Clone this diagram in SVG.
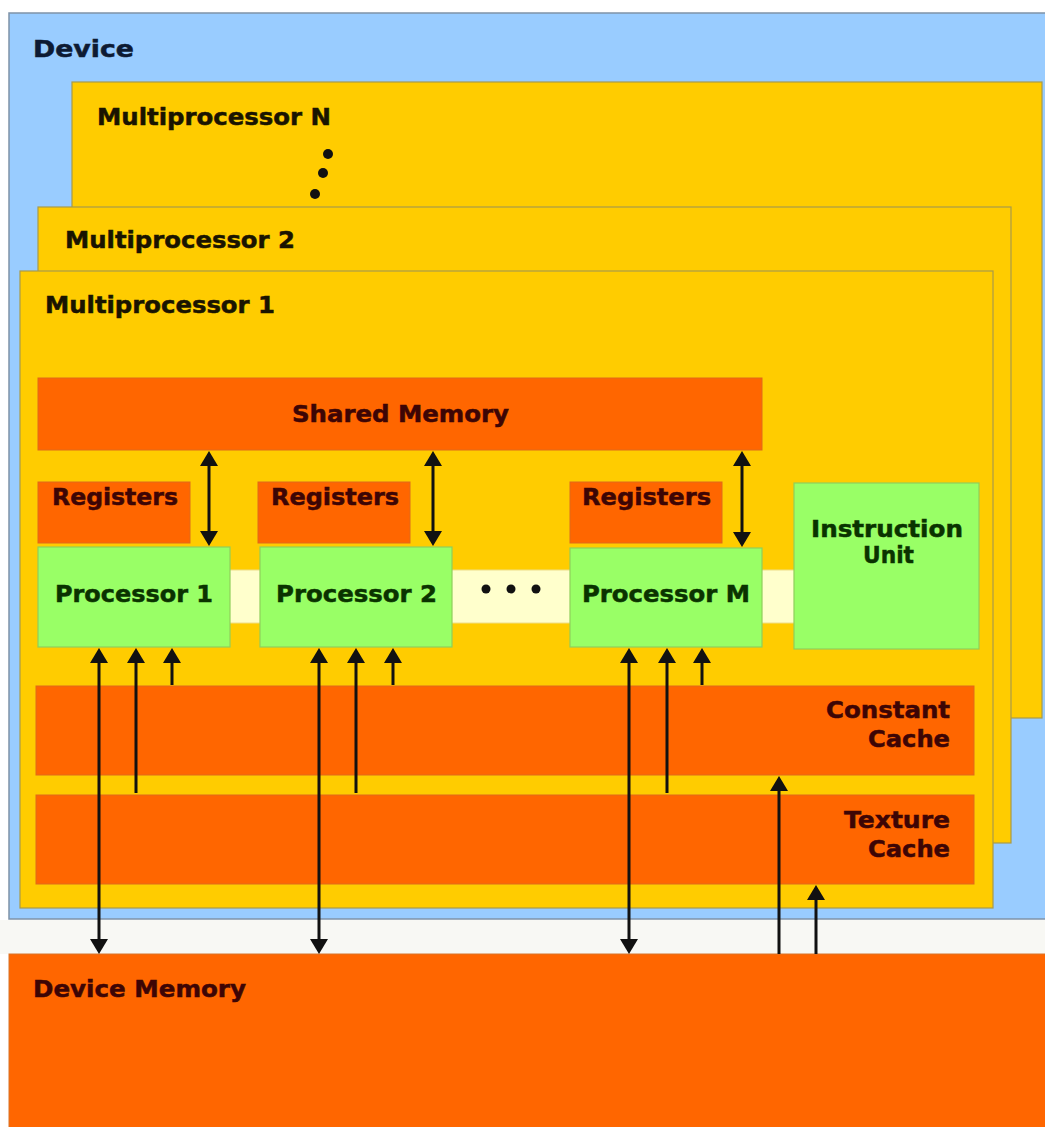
<svg xmlns="http://www.w3.org/2000/svg" width="1045" height="1127" viewBox="0 0 1045 1127">
  <defs>
    <marker id="ah" markerUnits="userSpaceOnUse" markerWidth="17" markerHeight="18" viewBox="0 0 15 18" refX="12" refY="9" orient="auto-start-reverse">
      <path d="M0,0 L15,9 L0,18 z" fill="#111"/>
    </marker>
    <style>
      text { font-family: "DejaVu Sans", Verdana, sans-serif; font-weight: bold; font-size: 23px; stroke-width: 0.5; }
      .dev { fill: #99CCFF; stroke: #7f93a8; stroke-width: 1.5; }
      .mp { fill: #FFCC00; stroke: #a89a4a; stroke-width: 1.2; }
      .or { fill: #FF6600; stroke: #e06a1a; stroke-width: 1; }
      .gr { fill: #99FF66; stroke: #8fcf5a; stroke-width: 1.2; }
      .strip { fill: #FFFFCC; stroke: #eedd88; stroke-width: 1; }
      .tDev { fill: #0d1a33; stroke: #0d1a33; }
      .tMp { fill: #1a1400; stroke: #1a1400; }
      .tOr { fill: #3d0505; stroke: #3d0505; }
      .tGr { fill: #0a3300; stroke: #0a3300; }
      .dot { fill: #111; }
      .c { stroke: #111; stroke-width: 3; fill: none; }
    </style>
  </defs>
  <rect x="0" y="0" width="1045" height="1127" fill="#ffffff"/>
  <rect x="0" y="920" width="1045" height="34" fill="#f8f8f4"/>

  <g id="device">
    <rect class="dev" x="9" y="13" width="1045" height="906"/>
    <text class="tDev" x="33" y="57" textLength="101" lengthAdjust="spacingAndGlyphs">Device</text>
  </g>

  <g id="multiprocessor-n">
    <rect class="mp" x="72" y="82" width="970" height="636"/>
    <text class="tMp" x="97" y="125" textLength="234" lengthAdjust="spacingAndGlyphs">Multiprocessor N</text>
    <circle class="dot" cx="328" cy="154" r="5"/>
    <circle class="dot" cx="323" cy="173" r="5"/>
    <circle class="dot" cx="315" cy="194" r="5"/>
  </g>

  <g id="multiprocessor-2">
    <rect class="mp" x="38" y="207" width="973" height="636"/>
    <text class="tMp" x="65" y="248" textLength="230" lengthAdjust="spacingAndGlyphs">Multiprocessor 2</text>
  </g>

  <g id="multiprocessor-1">
    <rect class="mp" x="20" y="271" width="973" height="637"/>
    <text class="tMp" x="45" y="313" textLength="230" lengthAdjust="spacingAndGlyphs">Multiprocessor 1</text>
  </g>

  <g id="shared-memory">
    <rect class="or" x="38" y="378" width="724" height="72"/>
    <text class="tOr" x="292" y="422" textLength="217" lengthAdjust="spacingAndGlyphs">Shared Memory</text>
  </g>

  <g id="interconnect">
    <rect class="strip" x="228" y="570" width="568" height="53"/>
    <circle class="dot" cx="486" cy="589" r="4.5"/>
    <circle class="dot" cx="511" cy="589" r="4.5"/>
    <circle class="dot" cx="536" cy="589" r="4.5"/>
  </g>

  <g id="registers-1">
    <rect class="or" x="38" y="482" width="152" height="61"/>
    <text class="tOr" x="52" y="505" textLength="126" lengthAdjust="spacingAndGlyphs">Registers</text>
  </g>
  <g id="registers-2">
    <rect class="or" x="258" y="482" width="152" height="61"/>
    <text class="tOr" x="271" y="505" textLength="128" lengthAdjust="spacingAndGlyphs">Registers</text>
  </g>
  <g id="registers-m">
    <rect class="or" x="570" y="482" width="152" height="61"/>
    <text class="tOr" x="582" y="505" textLength="129" lengthAdjust="spacingAndGlyphs">Registers</text>
  </g>

  <g id="processor-1">
    <rect class="gr" x="38" y="547" width="192" height="100"/>
    <text class="tGr" x="55" y="602" textLength="158" lengthAdjust="spacingAndGlyphs">Processor 1</text>
  </g>
  <g id="processor-2">
    <rect class="gr" x="260" y="547" width="192" height="100"/>
    <text class="tGr" x="276" y="602" textLength="161" lengthAdjust="spacingAndGlyphs">Processor 2</text>
  </g>
  <g id="processor-m">
    <rect class="gr" x="570" y="548" width="192" height="99"/>
    <text class="tGr" x="582" y="602" textLength="168" lengthAdjust="spacingAndGlyphs">Processor M</text>
  </g>

  <g id="instruction-unit">
    <rect class="gr" x="794" y="483" width="185" height="166"/>
    <text class="tGr" x="811" y="537" textLength="152" lengthAdjust="spacingAndGlyphs">Instruction</text>
    <text class="tGr" x="863" y="563" textLength="51" lengthAdjust="spacingAndGlyphs">Unit</text>
  </g>

  <g id="constant-cache">
    <rect class="or" x="36" y="686" width="938" height="89"/>
    <text class="tOr" x="826" y="718" textLength="124" lengthAdjust="spacingAndGlyphs">Constant</text>
    <text class="tOr" x="868" y="747" textLength="82" lengthAdjust="spacingAndGlyphs">Cache</text>
  </g>

  <g id="texture-cache">
    <rect class="or" x="36" y="795" width="938" height="89"/>
    <text class="tOr" x="844" y="828" textLength="106" lengthAdjust="spacingAndGlyphs">Texture</text>
    <text class="tOr" x="868" y="857" textLength="82" lengthAdjust="spacingAndGlyphs">Cache</text>
  </g>

  <g id="device-memory">
    <rect x="9" y="954" width="1045" height="180" fill="#FF6600" stroke="#d8752a" stroke-width="1"/>
    <text class="tOr" x="33" y="997" textLength="213" lengthAdjust="spacingAndGlyphs">Device Memory</text>
  </g>

  <g id="connectors">
    <!-- shared memory <-> processors -->
    <line class="c" x1="209" y1="454" x2="209" y2="543" marker-start="url(#ah)" marker-end="url(#ah)"/>
    <line class="c" x1="433" y1="454" x2="433" y2="543" marker-start="url(#ah)" marker-end="url(#ah)"/>
    <line class="c" x1="742" y1="454" x2="742" y2="544" marker-start="url(#ah)" marker-end="url(#ah)"/>
    <!-- processor 1 -->
    <line class="c" x1="99" y1="651" x2="99" y2="951" marker-start="url(#ah)" marker-end="url(#ah)"/>
    <line class="c" x1="136" y1="793" x2="136" y2="651" marker-end="url(#ah)"/>
    <line class="c" x1="172" y1="685" x2="172" y2="651" marker-end="url(#ah)"/>
    <!-- processor 2 -->
    <line class="c" x1="319" y1="651" x2="319" y2="951" marker-start="url(#ah)" marker-end="url(#ah)"/>
    <line class="c" x1="356" y1="793" x2="356" y2="651" marker-end="url(#ah)"/>
    <line class="c" x1="393" y1="685" x2="393" y2="651" marker-end="url(#ah)"/>
    <!-- processor M -->
    <line class="c" x1="629" y1="651" x2="629" y2="951" marker-start="url(#ah)" marker-end="url(#ah)"/>
    <line class="c" x1="667" y1="793" x2="667" y2="651" marker-end="url(#ah)"/>
    <line class="c" x1="702" y1="685" x2="702" y2="651" marker-end="url(#ah)"/>
    <!-- device memory -> caches -->
    <line class="c" x1="779" y1="954" x2="779" y2="779" marker-end="url(#ah)"/>
    <line class="c" x1="816" y1="954" x2="816" y2="888" marker-end="url(#ah)"/>
  </g>
</svg>
